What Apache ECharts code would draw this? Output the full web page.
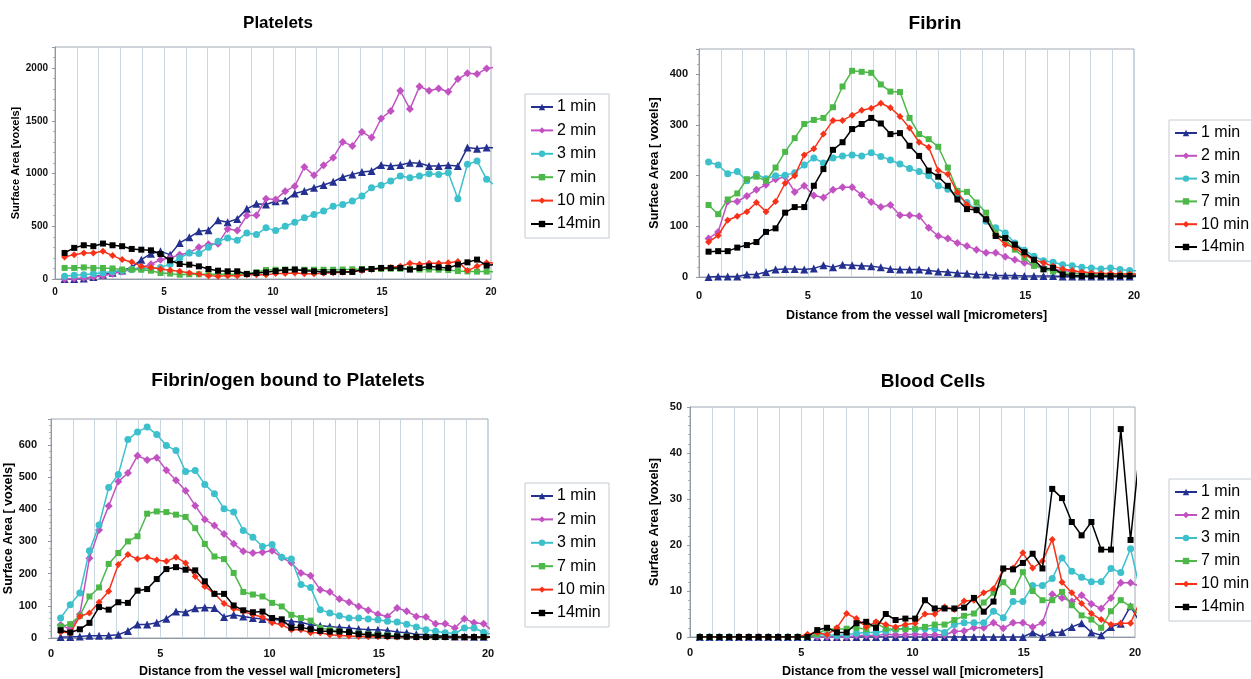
<!DOCTYPE html>
<html>
<head>
<meta charset="utf-8">
<script src="https://cdn.jsdelivr.net/npm/echarts@6/dist/echarts.min.js"></script>
<style>
html,body{margin:0;padding:0;background:#fff;}
#chart{width:1251px;height:679px;}
</style>
</head>
<body>
<div id="chart"></div>
<script>
// distance from the vessel wall [micrometers]
var xs = [0.44,0.88,1.32,1.76,2.2,2.64,3.08,3.52,3.96,4.4,4.84,5.28,5.72,6.16,6.6,7.04,7.48,7.92,8.36,8.8,9.24,9.68,10.12,10.56,11,11.44,11.88,12.32,12.76,13.2,13.64,14.08,14.52,14.96,15.4,15.84,16.28,16.72,17.16,17.6,18.04,18.48,18.92,19.36,19.8,20.24];
var seriesNames = ['1 min','2 min','3 min','7 min','10 min','14min'];
var panelTitles = ['Platelets','Fibrin','Fibrin/ogen bound to Platelets','Blood Cells'];
var yAxisNames = ['Surface Area [voxels]','Surface Area [ voxels]','Surface Area [ voxels]','Surface Area [voxels]'];
var xAxisName = 'Distance from the vessel wall [micrometers]';
var xTickLabels = [0,5,10,15,20];

// Platelets
var plt1 = [0,0,5,20,40,60,80,110,183,240,262,231,342,395,452,462,557,538,570,665,713,706,737,744,811,834,865,891,922,967,992,1014,1024,1081,1071,1081,1103,1097,1071,1071,1078,1071,1246,1236,1246,1245];
var plt2 = [0,5,10,20,30,50,70,90,110,140,183,200,230,250,300,330,335,475,459,602,605,760,754,833,880,1062,983,1078,1150,1300,1262,1395,1341,1522,1594,1785,1611,1826,1785,1807,1775,1896,1950,1943,1997,2010];
var plt3 = [25,35,40,50,60,70,80,90,95,100,110,140,199,247,241,300,357,389,367,437,421,485,459,500,538,580,612,644,691,707,739,786,865,888,929,976,960,976,999,992,1008,761,1087,1119,945,880];
var plt7 = [105,105,110,105,105,100,90,90,88,79,57,51,41,45,45,45,45,45,45,50,65,85,88,90,90,88,88,88,88,90,92,95,95,95,97,97,95,90,90,88,85,75,72,70,70,68];
var plt10 = [209,231,247,247,263,222,184,162,120,110,95,82,73,57,47,32,25,32,32,41,41,41,51,51,57,50,50,55,60,65,70,80,90,100,110,120,150,140,150,150,155,165,80,120,155,150];
var plt14 = [247,295,320,311,336,320,311,285,278,272,237,177,142,136,120,95,79,73,73,47,57,63,75,85,90,79,73,67,67,67,67,89,95,105,105,105,89,105,120,111,105,136,158,184,127,140];

// Fibrin
var fib1 = [0,1,1,1,5,5,10,15,16,16,15,17,23,19,24,23,22,21,19,16,15,15,15,13,11,10,8,7,5,5,3,3,3,2,2,2,2,1,1,1,1,1,1,1,1,1];
var fib2 = [76,89,149,149,160,172,182,193,198,168,180,161,157,172,177,177,162,148,138,142,122,122,120,97,81,76,67,61,54,48,48,40,34,28,23,19,15,13,11,10,8,7,6,6,5,5];
var fib3 = [227,221,204,208,190,203,194,200,201,206,221,235,225,235,239,241,239,245,238,231,223,214,208,200,180,173,160,147,134,110,97,87,67,53,41,32,29,24,22,19,18,16,18,15,13,12];
var fib7 = [142,124,153,165,193,198,190,216,247,274,302,310,314,335,376,407,405,403,380,366,365,314,282,272,257,216,170,168,147,127,87,74,54,38,22,16,11,8,7,6,5,4,4,4,4,4];
var fib10 = [69,82,112,120,129,147,129,149,185,200,241,253,282,309,309,319,329,333,343,334,317,294,266,256,210,203,167,143,132,114,82,64,58,44,34,28,21,16,13,10,8,7,7,6,6,6];
var fib14 = [50,51,51,58,63,69,89,96,127,138,138,180,213,251,266,292,302,314,303,282,284,259,239,210,198,180,153,134,132,114,81,77,64,49,34,15,18,5,3,2,2,2,2,2,2,2];

// Fibrin/ogen bound to Platelets
var fbp1 = [3,3,5,7,7,8,10,22,42,42,47,60,82,80,92,95,93,65,72,67,62,59,58,55,52,49,41,38,36,33,31,28,26,26,23,19,16,12,10,8,6,5,5,4,4,3];
var fbp2 = [40,28,73,248,335,410,486,512,566,553,560,521,490,457,411,368,349,323,293,269,264,266,271,250,234,202,193,150,143,121,111,98,86,74,67,93,83,67,65,44,44,31,60,47,44,21];
var fbp3 = [62,103,140,271,351,467,508,616,640,655,632,598,582,517,520,477,448,401,391,334,313,284,290,251,245,166,157,88,78,69,62,62,59,57,52,50,43,34,26,21,16,14,31,31,18,10];
var fbp7 = [36,43,69,129,157,230,264,300,316,386,393,391,383,376,341,292,253,245,202,143,135,129,109,98,72,62,54,31,26,21,16,14,12,10,8,6,5,4,4,3,3,3,3,3,3,3];
var fbp10 = [19,16,67,78,111,145,228,259,245,251,242,238,251,233,191,160,138,107,91,83,72,65,47,41,26,26,16,16,10,8,6,5,4,4,3,3,3,2,2,2,2,2,2,2,2,2];
var fbp14 = [24,17,27,47,96,88,111,109,147,152,183,214,220,212,210,176,137,137,101,86,80,82,62,58,32,33,27,22,20,20,18,12,10,8,6,5,4,3,3,3,3,3,3,3,3,3];

// Blood Cells
var bc1 = [0,0,0,0,0,0,0,0,0,0,0,0,0,0,0,0,0,0,0,0,0,0,0,0,0,0,0,0,0,0,0,0,0,0,1,0,1,1.1,2.2,3,1,0.4,2.2,2.9,6.7,3];
var bc2 = [0,0,0,0,0,0,0,0,0,0,0,0,0,0,0,0,0.3,0.3,0.3,0.6,0.5,0.5,0.6,0.5,0.5,0.5,1.2,1.3,2,2,3.1,1.9,3.1,3.1,2.2,3.1,9.3,8.5,7.7,9.1,7.2,6.2,8.5,11.8,11.8,11];
var bc3 = [0,0,0,0,0,0,0,0,0,0,0,0,0.5,0.5,0.3,0.5,0.8,1,1,1.3,1.7,1.9,1.7,1.8,1.8,1,2.7,3.1,3.1,3.1,5.6,4.2,7.7,7.7,11.2,11.2,12.7,17.2,14.3,13,12,12,14.9,14,19.2,10];
var bc7 = [0,0,0,0,0,0,0,0,0,0,0,0,0.6,1.8,1.7,1.8,2,1.7,3,1.8,1.7,1.7,1.8,2.2,2.7,2.7,3.7,4.6,5.1,7.5,9.6,11.9,9.8,14.1,10,8,8,9.8,6.9,4.7,3.8,2,5.6,8,6.6,4.5];
var bc10 = [0,0,0,0,0,0,0,0,0,0,0,0.6,1,0.5,2,5.1,4,2.2,3.3,2.7,2.2,2.7,3,5,5,6.5,6,7.8,8,9.6,10.5,14.7,15,18.3,15,16.5,21.2,11.9,9.6,7.3,5.1,3.8,2.7,3,3,8];
var bc14 = [0,0,0,0,0,0,0,0,0,0,0,0,1.5,2,1,1,3,3.3,2,5,3.7,4,4,8,6.2,6.2,6.2,6.4,8.5,5.5,7.7,14.9,14.7,16.1,18.1,14.9,32.2,30.2,25,22.1,25,19,19,45.2,21.1,42];

var panelData = [
  [plt1,plt2,plt3,plt7,plt10,plt14],
  [fib1,fib2,fib3,fib7,fib10,fib14],
  [fbp1,fbp2,fbp3,fbp7,fbp10,fbp14],
  [bc1,bc2,bc3,bc7,bc10,bc14]
];

var FONT = 'Liberation Sans, Arial, Helvetica, sans-serif';
var colors = ['#24308f','#c252c2','#3cc0cc','#4cb848','#f83218','#000000'];
var symbols = ['triangle','diamond','circle','rect','diamond','rect'];
var symSizes = [8,8,7,6,7,6];

// layout
var grids = [
  {left:55, top:47, width:436, height:232},
  {left:699, top:49, width:435, height:228},
  {left:51, top:419, width:437, height:219},
  {left:690, top:407, width:445, height:231}
];
var yMax = [2200,450,680,50];
var yInt = [500,100,100,10];
var tickFont = [10,11,11,11];
var nameFont = [11,12.5,12.5,12.5];
var yNameGap = [34,38,34,29];
var yLabelMargin = [7,11,14,8];
var xNameGap = [26,32,27,28];
var xLabelMargin = [8,13,10,10];
var titlePos = [[273,10,17],[930,9,19],[283,366,19],[928,367,19]];
var legendPos = [[525,94,7.4],[1169,120,6.8],[525,483,7.4],[1169,479,7]];

var option = {
  animation:false,
  backgroundColor:'#ffffff',
  textStyle:{fontFamily:FONT},
  title: panelTitles.map(function(t,i){
    return {text:t, left:titlePos[i][0], top:titlePos[i][1], textAlign:'center',
      textStyle:{fontFamily:FONT, fontWeight:'bold', fontSize:titlePos[i][2], color:'#000'}};
  }),
  grid: grids.map(function(g){
    return {left:g.left, top:g.top, width:g.width, height:g.height, show:true,
      borderColor:'#a2aab2', borderWidth:1, backgroundColor:'#fff', containLabel:false};
  }),
  legend: legendPos.map(function(p){
    return {orient:'vertical', left:p[0], top:p[1], itemGap:p[2], itemWidth:22, itemHeight:8,
      data:seriesNames, borderColor:'#c4ccd4', borderWidth:1, padding:[5,4,6,5],
      backgroundColor:'#fff', selectedMode:false,
      textStyle:{fontFamily:FONT, fontSize:16, color:'#000', lineHeight:16, padding:[0,0,0,-1]}};
  }),
  xAxis: grids.map(function(g,i){
    return {type:'value', gridIndex:i, min:0, max:20, interval:1,
      name:xAxisName, nameLocation:'middle', nameGap:xNameGap[i],
      nameTextStyle:{fontFamily:FONT, fontWeight:'bold', fontSize:nameFont[i], color:'#000'},
      axisLine:{show:true, lineStyle:{color:'#8f9aa4', width:1}},
      axisTick:{show:false},
      axisLabel:{margin:xLabelMargin[i], fontFamily:FONT, fontWeight:'bold', fontSize:tickFont[i], color:'#111',
        formatter:function(v){ return xTickLabels.indexOf(v) >= 0 ? String(v) : ''; }},
      splitLine:{show:true, lineStyle:{color:'#c9d7e1', width:1}}};
  }),
  yAxis: grids.map(function(g,i){
    return {type:'value', gridIndex:i, min:0, max:yMax[i], interval:yInt[i],
      name:yAxisNames[i], nameLocation:'middle', nameGap:yNameGap[i], nameRotate:90,
      nameTextStyle:{fontFamily:FONT, fontWeight:'bold', fontSize:nameFont[i], color:'#000'},
      axisLine:{show:true, lineStyle:{color:'#8f9aa4', width:1}},
      axisTick:{show:true, length:3, lineStyle:{color:'#8f9aa4'}},
      minorTick:{show:true, splitNumber:5, length:2, lineStyle:{color:'#a8b2ba'}},
      axisLabel:{margin:yLabelMargin[i], fontFamily:FONT, fontWeight:'bold', fontSize:tickFont[i], color:'#111',
        showMaxLabel: (yMax[i] % yInt[i] === 0),
        formatter:function(v){ return String(v); }},
      splitLine:{show:false}};
  }),
  series: []
};

panelData.forEach(function(arrs, p){
  arrs.forEach(function(arr, s){
    option.series.push({
      type:'line', name:seriesNames[s], xAxisIndex:p, yAxisIndex:p,
      data: xs.map(function(x,k){ return [x, arr[k]]; }),
      symbol:symbols[s], symbolSize:symSizes[s], showAllSymbol:true,
      clip:true, z: 2 + s,
      lineStyle:{color:colors[s], width:1.5},
      itemStyle:{color:colors[s], borderWidth:0}
    });
  });
});

var chart = echarts.init(document.getElementById('chart'), null, {renderer:'canvas'});
chart.setOption(option);
</script>
</body>
</html>
